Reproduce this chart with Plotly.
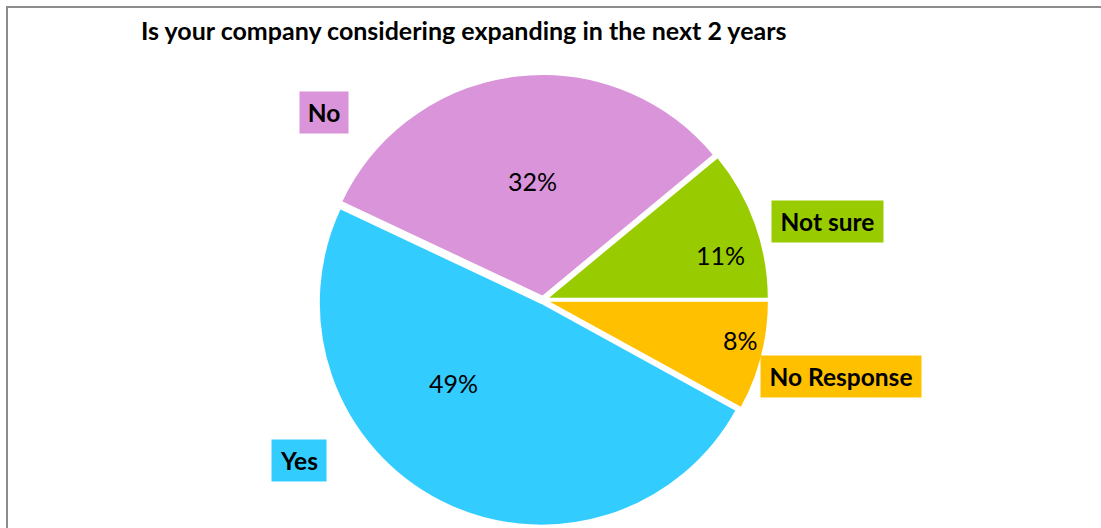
import plotly.graph_objects as go

W, H = 1101, 528

# Survey answers, listed clockwise starting from 3 o'clock
labels = ["No Response", "Yes", "No", "Not sure"]
values = [8, 49, 32, 11]
colors = ["#FFC000", "#33CCFF", "#DA94DA", "#99CC00"]

title = "Is your company considering expanding in the next 2 years"

FONT = "Lato, 'Open Sans', sans-serif"


def px(x, y):
    """Pixel position -> paper coordinates (margins are zero)."""
    return x / W, 1 - y / H


# pie geometry in pixels
cx, cy, half = 543, 300, 226
x0, y1 = px(cx - half, cy - half)
x1, y0 = px(cx + half, cy + half)

fig = go.Figure(
    go.Pie(
        labels=labels,
        values=values,
        sort=False,
        direction="clockwise",
        rotation=90,
        pull=[0.015] * len(values),
        marker=dict(colors=colors, line=dict(color="white", width=2)),
        textinfo="none",
        hoverinfo="label+percent",
        showlegend=False,
        domain=dict(x=[x0, x1], y=[y0, y1]),
    )
)

total = sum(values)
# inner percentage label positions (pixels)
pct_pos = {"No Response": (740, 340), "Yes": (453, 383), "No": (532, 181), "Not sure": (720, 255)}
# outer category label boxes: centre and box size (pixels)
cat_box = {
    "No Response": (841, 376, 160, 41),
    "Yes": (299, 460, 54, 41),
    "No": (324, 113, 48, 41),
    "Not sure": (827, 221, 111, 41),
}
PAD = 3

annotations = []
for lab, val, col in zip(labels, values, colors):
    ax, ay = px(*pct_pos[lab])
    annotations.append(dict(
        x=ax, y=ay, xref="paper", yref="paper", showarrow=False,
        xanchor="center", yanchor="middle",
        text=f"{round(val / total * 100)}%",
        font=dict(family=FONT, size=25, color="black"),
    ))
    bxp, byp, bw, bh = cat_box[lab]
    bx, by = px(bxp, byp)
    annotations.append(dict(
        x=bx, y=by, xref="paper", yref="paper", showarrow=False,
        xanchor="center", yanchor="middle",
        text=f"<b>{lab}</b>", bgcolor=col, borderpad=PAD,
        width=bw - 2 * PAD, height=bh - 2 * PAD,
        font=dict(family=FONT, size=24.5, color="black"),
    ))

tx, ty = px(463, 30)
annotations.append(dict(
    x=tx, y=ty, xref="paper", yref="paper", showarrow=False,
    xanchor="center", yanchor="middle",
    text=f"<b>{title}</b>",
    font=dict(family=FONT, size=25, color="black"),
))

fig.update_layout(
    width=W, height=H,
    margin=dict(l=0, r=0, t=0, b=0),
    paper_bgcolor="white",
    plot_bgcolor="white",
    annotations=annotations,
    shapes=[dict(
        type="rect", xref="paper", yref="paper",
        x0=7 / W, y0=-0.05, x1=1.05, y1=1 - 7 / H,
        line=dict(color="#8C8C8C", width=2),
        layer="below",
    )],
)

fig.write_html("out.html")
